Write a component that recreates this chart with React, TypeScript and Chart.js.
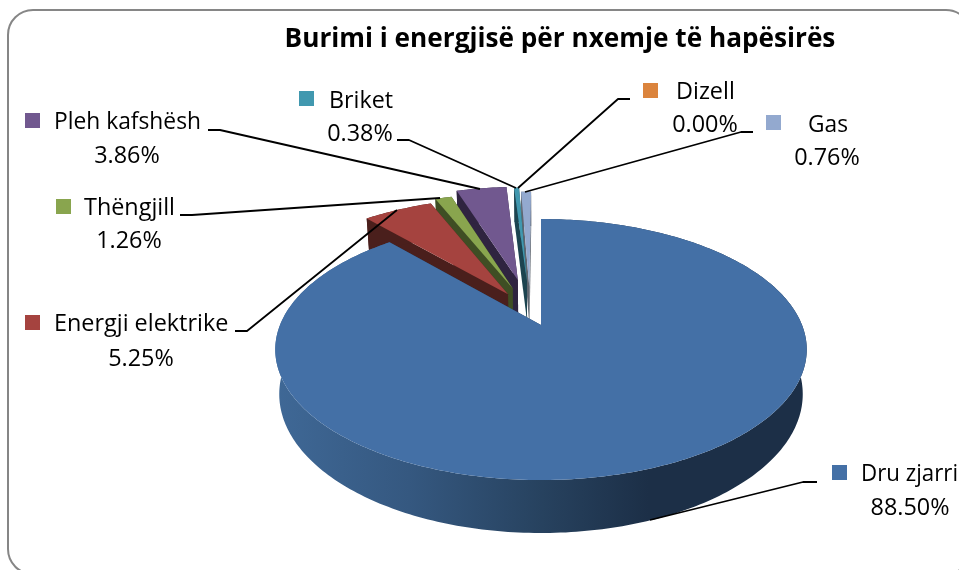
import React, { useEffect, useRef } from "react";
import { Chart, registerables } from "chart.js";

Chart.register(...registerables);

const categories = ["Dru zjarri", "Energji elektrike", "Thëngjill", "Pleh kafshësh", "Briket", "Dizell", "Gas"];
const shares = [88.5, 5.25, 1.26, 3.86, 0.38, 0.0, 0.76];
const explode = [12, 17, 21, 27.5, 26, 0, 21];
const faceColors = ["#4470A6", "#A5433F", "#89A54E", "#71588F", "#4198AF", "#DB843D", "#93A9CF"];
const wallColors = ["#25405f", "#4A1F1C", "#3F4E24", "#2F2440", "#1D4450", "#6E4220", "#5F6670"];

const TITLE = "Burimi i energjisë për nxemje të hapësirës";
const FONT = "'Open Sans', sans-serif";

const labelLayout = [
  { sx: 832, sy: 465, nx: 861, ny: 474, nw: 97, vx: 910, vy: 508 },
  { sx: 25, sy: 315, nx: 54, ny: 324, nw: 175, vx: 141, vy: 359 },
  { sx: 56, sy: 199, nx: 84, ny: 208, nw: 91, vx: 129, vy: 241 },
  { sx: 25, sy: 113, nx: 54, ny: 122, nw: 147, vx: 127, vy: 156 },
  { sx: 299, sy: 91, nx: 329, ny: 101, nw: 64, vx: 360, vy: 134 },
  { sx: 643, sy: 83, nx: 676, ny: 92, nw: 59, vx: 705, vy: 125 },
  { sx: 766, sy: 115, nx: 808, ny: 125, nw: 40, vx: 827, vy: 158 },
];
const leaders = [
  [[817, 482], [803, 482], [650, 520]],
  [[235, 331], [247, 331], [397, 210]],
  [[180, 215], [192, 215], [440, 198]],
  [[208, 130], [220, 130], [480, 189]],
  [[397, 140], [409, 140], [516, 188]],
  [[630, 99], [618, 99], [518, 188]],
  [[753, 132], [741, 132], [525, 192]],
];

const persp = 0.188;
const radX = 261;
const radY = 125.9;
const depth = 43;
const floorShrink = 0.985;

const pie3d = {
  id: "pie3d",
  beforeDatasetsDraw(chart: any) {
    const ctx = chart.ctx as CanvasRenderingContext2D;
    const arcs = chart.getDatasetMeta(0).data as any[];
    const project = (el: any, u: number, v: number, floor: boolean) => {
      const w = 1 + persp * v;
      const s = floor ? floorShrink : 1;
      return [el.x + (radX * u * s) / w, el.y - (radY * v) / w + (floor ? depth / w : 0)];
    };
    const fillPath = (pts: number[][], fill: any) => {
      ctx.beginPath();
      pts.forEach((p, i) => (i ? ctx.lineTo(p[0], p[1]) : ctx.moveTo(p[0], p[1])));
      ctx.closePath();
      ctx.fillStyle = fill;
      ctx.fill();
    };
    const offsetOf = (el: any) => {
      const p = el.getProps(["startAngle", "endAngle", "outerRadius"], true);
      const mid = (p.startAngle + p.endAngle) / 2;
      const off = (el.options.offset || 0) / p.outerRadius;
      return [off * Math.cos(mid), -off * Math.sin(mid)];
    };
    const base = offsetOf(arcs[0]);
    const order = [6, 4, 3, 2, 1, 0];
    for (const i of order) {
      const el = arcs[i];
      if (!shares[i]) continue;
      const { startAngle, endAngle } = el.getProps(["startAngle", "endAngle"], true);
      const o = offsetOf(el);
      const ou = o[0] - base[0];
      const ov = o[1] - base[1];
      const steps = Math.max(4, Math.ceil((endAngle - startAngle) * 60));
      const rim: number[][] = [];
      for (let k = 0; k <= steps; k++) {
        const a = startAngle + ((endAngle - startAngle) * k) / steps;
        rim.push([ou + Math.cos(a), ov - Math.sin(a)]);
      }
      const top = rim.map((p) => project(el, p[0], p[1], false));
      const bot = rim.map((p) => project(el, p[0], p[1], true));
      const apexT = project(el, ou, ov, false);
      const apexB = project(el, ou, ov, true);
      let wallFill: any = wallColors[i];
      if (i === 0) {
        const g = ctx.createLinearGradient(276, 0, 808, 0);
        g.addColorStop(0, "#3F6896");
        g.addColorStop(0.25, "#355880");
        g.addColorStop(0.5, "#27425F");
        g.addColorStop(0.7, "#1C2F47");
        g.addColorStop(1, "#1C2F47");
        wallFill = g;
      }
      fillPath([apexT, top[0], bot[0], apexB], wallColors[i]);
      fillPath([apexT, top[steps], bot[steps], apexB], wallColors[i]);
      fillPath([...top, ...bot.slice().reverse()], wallFill);
      fillPath([apexT, ...top], faceColors[i]);
    }
    return false;
  },
  afterDraw(chart: any) {
    const ctx = chart.ctx as CanvasRenderingContext2D;
    ctx.save();
    ctx.strokeStyle = "#000";
    ctx.lineWidth = 1.8;
    ctx.lineJoin = "round";
    for (const line of leaders) {
      ctx.beginPath();
      line.forEach((p, i) => (i ? ctx.lineTo(p[0], p[1]) : ctx.moveTo(p[0], p[1])));
      ctx.stroke();
    }
    ctx.fillStyle = "#000";
    ctx.textBaseline = "middle";
    ctx.textAlign = "left";
    ctx.font = `23.4px ${FONT}`;
    categories.forEach((name, i) => {
      const l = labelLayout[i];
      ctx.fillStyle = faceColors[i];
      ctx.fillRect(l.sx, l.sy, 15, 15);
      ctx.fillStyle = "#000";
      ctx.textAlign = "left";
      ctx.fillText(name, l.nx, l.ny, l.nw);
      ctx.textAlign = "center";
      ctx.fillText(shares[i].toFixed(2) + "%", l.vx, l.vy);
    });
    ctx.textAlign = "center";
    ctx.font = `bold 26.2px ${FONT}`;
    ctx.fillText(TITLE, 560, 40);
    ctx.restore();
  },
  beforeDraw(chart: any) {
    const ctx = chart.ctx as CanvasRenderingContext2D;
    ctx.save();
    ctx.fillStyle = "#fff";
    ctx.fillRect(0, 0, chart.width, chart.height);
    ctx.beginPath();
    ctx.roundRect(8, 10, 963, 564, 25);
    ctx.strokeStyle = "#868686";
    ctx.lineWidth = 2;
    ctx.stroke();
    ctx.restore();
  },
};

export default function App() {
  const ref = useRef<HTMLCanvasElement>(null);
  useEffect(() => {
    const chart = new Chart(ref.current as HTMLCanvasElement, {
      type: "pie",
      data: {
        labels: categories,
        datasets: [{ data: shares, offset: explode, backgroundColor: faceColors, radius: 100, borderWidth: 0 }],
      },
      options: {
        responsive: false,
        animation: false,
        layout: { padding: { left: 123, top: 80, right: 0, bottom: 0 } },
        plugins: { legend: { display: false }, tooltip: { enabled: false }, title: { display: false } },
      },
      plugins: [pie3d],
    } as any);
    return () => chart.destroy();
  }, []);
  return (
    <div style={{ position: "absolute", left: 0, top: 0, width: 959, height: 570, overflow: "hidden" }}>
      <canvas ref={ref} width={959} height={570} style={{ display: "block" }} />
    </div>
  );
}
